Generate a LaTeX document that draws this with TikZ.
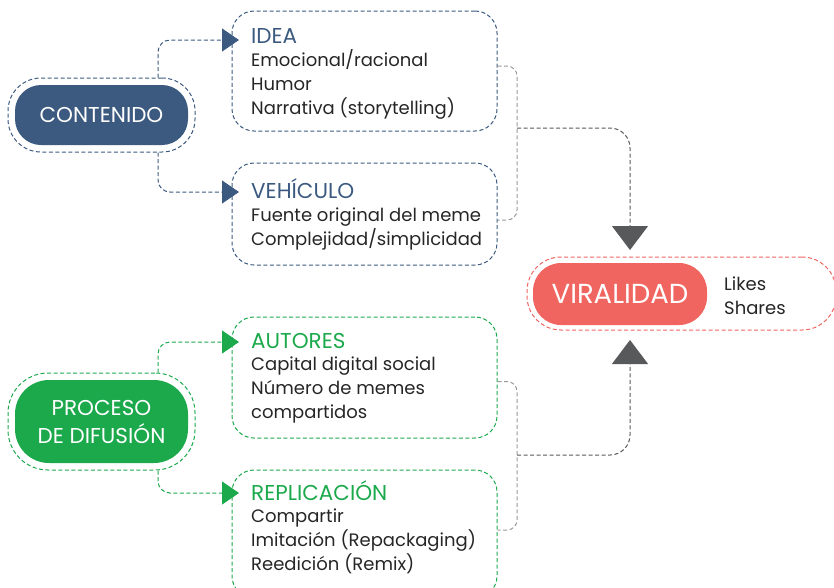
\documentclass[tikz,border=0pt]{standalone}
\usepackage{fontspec}
\setmainfont{Poppins}
\usetikzlibrary{arrows.meta}
\definecolor{azulC}{HTML}{3C5A80}
\definecolor{verdeC}{HTML}{1BA94C}
\definecolor{rojoC}{HTML}{F0655F}
\definecolor{grisA}{HTML}{58595B}
\definecolor{grisL}{HTML}{9A9A9A}
\begin{document}
\begin{tikzpicture}[x=1pt, y=-1pt,
  pill/.style={rounded corners=26pt, fill=#1, text=white, minimum width=173pt, minimum height=60pt, align=center, font=\fontsize{21.5}{28}\selectfont, inner sep=0pt},
  halo/.style={rounded corners=33pt, draw=#1, dash pattern=on 4pt off 2.5pt, line width=1pt, minimum width=187pt, minimum height=74pt, inner sep=0pt},
  card/.style={rounded corners=22pt, draw=#1, dash pattern=on 4pt off 2.5pt, line width=1pt, minimum width=265pt, inner sep=0pt},
  head/.style={anchor=base west, text=#1, font=\fontsize{21.5}{24}\selectfont, inner sep=0pt},
  body/.style={anchor=base west, align=left, font=\fontsize{18}{24}\selectfont, text=black!85, inner sep=0pt},
  link/.style={draw=#1, dash pattern=on 4pt off 2.5pt, line width=1pt, rounded corners=12pt, -{Triangle[length=17pt, width=23pt, fill=#1]}},
  brace/.style={draw=grisL, dash pattern=on 4pt off 2.5pt, line width=1pt, rounded corners=10pt},
  feed/.style={draw=grisA, dash pattern=on 4pt off 2.5pt, line width=1pt, rounded corners=20pt, -{Triangle[length=24pt, width=36pt, fill=grisA]}}
]
\useasboundingbox (0,0) rectangle (834,587);

% Contenido
\node[halo=azulC, minimum height=74pt] (contO) at (101.5,115) {};
\node[pill=azulC] (cont) at (101.5,115) {CONTENIDO};

\node[card=azulC, minimum height=120pt] (idea) at (364.5,71) {};
\node[head=azulC] (ideaT) at (251,43) {IDEA};
\node[body] (ideaB) at (251,114) {Emocional/racional\\Humor\\Narrativa (storytelling)};

\node[card=azulC, minimum height=102pt] (veh) at (364.5,214) {};
\node[head=azulC] (vehT) at (251,198) {VEHÍCULO};
\node[body] (vehB) at (251,245) {Fuente original del meme\\Complejidad/simplicidad};

\coordinate (ideaIn) at (239,40);
\coordinate (vehIn) at (239,192);
\draw[link=azulC] ([xshift=56.5pt]contO.north) |- (ideaIn);
\draw[link=azulC] ([xshift=56.5pt]contO.south) |- (vehIn);

% Proceso de difusion
\node[halo=verdeC, minimum height=97pt, rounded corners=40pt] (difO) at (101.5,421.5) {};
\node[pill=verdeC, minimum height=83pt, rounded corners=34pt] (dif) at (101.5,421.5) {PROCESO\\DE DIFUSIÓN};

\node[card=verdeC, minimum height=121pt] (aut) at (364.5,377.5) {};
\node[head=verdeC] (autT) at (251,348) {AUTORES};
\node[body] (autB) at (251,418) {Capital digital social\\Número de memes\\compartidos};

\node[card=verdeC, minimum height=128pt] (rep) at (364.5,534) {};
\node[head=verdeC] (repT) at (251,500) {REPLICACIÓN};
\node[body] (repB) at (251,570) {Compartir\\Imitación (Repackaging)\\Reedición (Remix)};

\coordinate (autIn) at (239,342);
\coordinate (repIn) at (239,493);
\draw[link=verdeC] ([xshift=56.5pt]difO.north) |- (autIn);
\draw[link=verdeC] ([xshift=56.5pt]difO.south) |- (repIn);

% Viralidad
\node[halo=rojoC, minimum width=309pt, minimum height=73pt, rounded corners=34pt] (virO) at (681.5,293.5) {};
\node[pill=rojoC, minimum width=174pt, minimum height=62pt, rounded corners=28pt, font=\fontsize{27.5}{30}\selectfont] (vir) at (620,294) {VIRALIDAD};
\node[body] (virB) at (724,314) {Likes\\Shares};

% brackets to viralidad
\draw[brace] ([yshift=5pt]idea.east) -| (517,142) |- ([yshift=-6pt]veh.east);
\draw[brace] ([yshift=-4pt]aut.east) -| (517,455) |- ([yshift=4pt]rep.east);
\coordinate (jTop) at (517,128);
\coordinate (jBot) at (517,455);
\coordinate (virIn) at (630,250);
\coordinate (virUp) at (630,340);
\draw[feed] (jTop) -| (virIn);
\draw[feed] (jBot) -| (virUp);

\end{tikzpicture}
\end{document}
